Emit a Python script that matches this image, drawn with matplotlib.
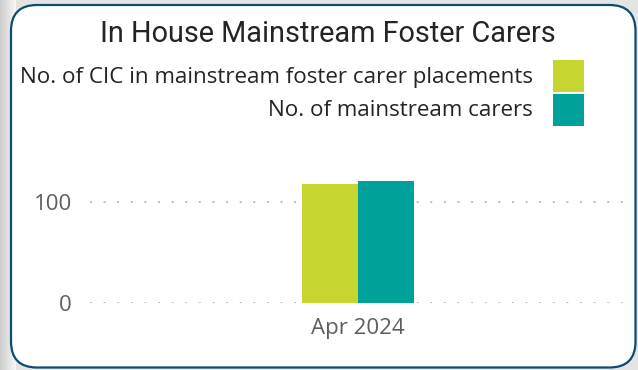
import matplotlib.pyplot as plt
import numpy as np
from matplotlib.patches import FancyBboxPatch, Rectangle

# data
months = ['Apr 2024']
series = ['No. of CIC in mainstream foster carer placements', 'No. of mainstream carers']
values = [[118], [121]]
colors = ['#C7D530', '#00A19A']
yticks = [0, 100]

W, H = 638, 370
fig = plt.figure(figsize=(W / 100, H / 100), dpi=100)
fig.patch.set_facecolor('#e4e4e4')

# background card with shadow
bg = fig.add_axes([0, 0, 1, 1])
bg.set_xlim(0, W)
bg.set_ylim(H, 0)
bg.axis('off')
grad = np.linspace(0.80, 0.97, 64)[None, :]
bg.imshow(np.repeat(grad[..., None], 3, axis=2), extent=(0, 16, H, 0), aspect='auto')
bg.add_patch(FancyBboxPatch((11, 5), 624.5, 362.5, boxstyle='round,pad=0,rounding_size=26',
                            facecolor='white', edgecolor='#0E4C6E', linewidth=1.6))

bg.text(328, 34, 'In House Mainstream Foster Carers', ha='center', va='center',
        fontsize=20.8, color='#252423', family='Roboto')

# legend, right aligned
for i, (name, c) in enumerate(zip(series, colors)):
    yc = 77 + i * 34
    bg.text(533, yc, name, ha='right', va='center', fontsize=16.1, color='#252423',
            family='Open Sans')
    bg.add_patch(Rectangle((553, yc - 17), 31, 32, facecolor=c, edgecolor='none'))

# plot area: x 90..625 px, y 0 at 303 px
ax = fig.add_axes([90 / W, (H - 303) / H, 535 / W, 151.5 / H])
ax.set_xlim(-0.5, 0.5)
ax.set_ylim(0, 150)
x = np.arange(len(months))
bw = 56 / 535
for i, (v, c) in enumerate(zip(values, colors)):
    ax.bar(x + (i - 0.5) * bw, v, width=bw, color=c, zorder=3)

ax.set_yticks(yticks)
ax.set_xticks(x)
ax.set_xticklabels(months)
ax.tick_params(length=0, labelsize=16, labelcolor='#605E5C', pad=11)
ax.tick_params(axis='y', pad=13)
for lab in ax.get_xticklabels() + ax.get_yticklabels():
    lab.set_family('Open Sans')
ax.grid(axis='y', color='#bdbdbd', linestyle=(0, (1, 6)), linewidth=1.4)
for s in ax.spines.values():
    s.set_visible(False)
ax.patch.set_alpha(0)

fig.savefig('out.png', dpi=100, facecolor=fig.get_facecolor())
